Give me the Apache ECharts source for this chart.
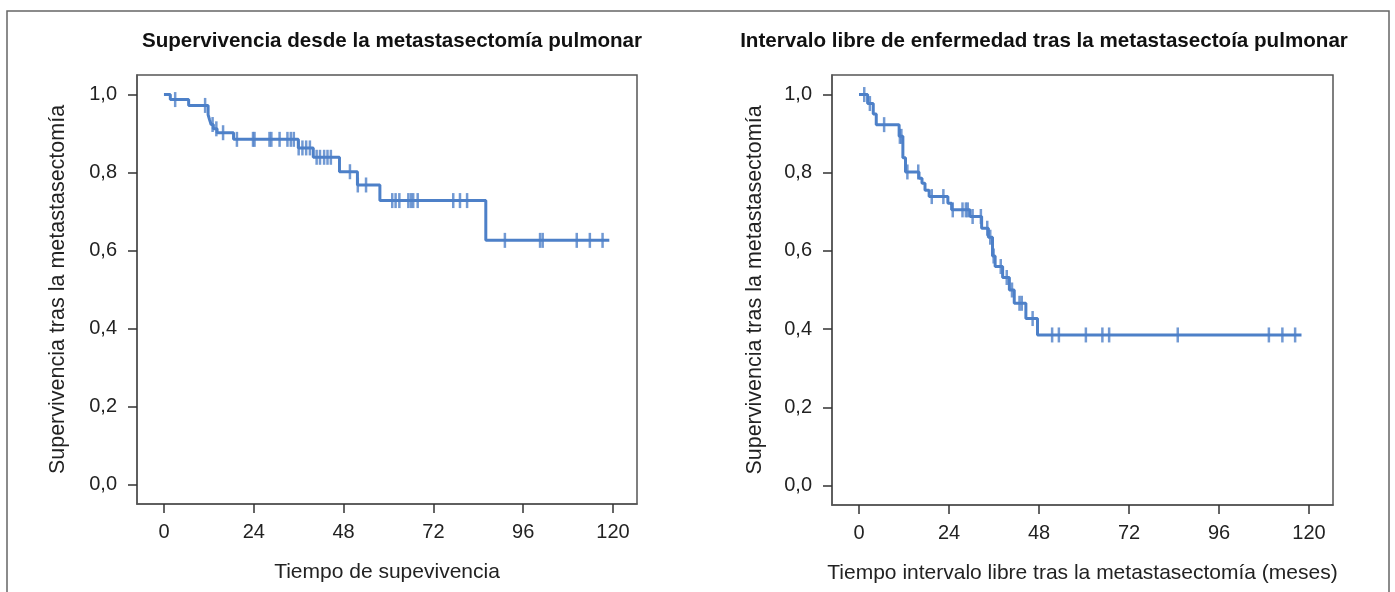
<!DOCTYPE html>
<html>
<head>
<meta charset="utf-8">
<script src="https://cdn.jsdelivr.net/npm/echarts@6/dist/echarts.min.js"></script>
<style>html,body{margin:0;padding:0;background:#fff;}#c{width:1395px;height:592px;}</style>
</head>
<body>
<div id="c"></div>
<script>
// ---- Data ----
const xTicks = [0, 24, 48, 72, 96, 120];
const yTicks = [0, 0.2, 0.4, 0.6, 0.8, 1.0];

// Left: Supervivencia desde la metastasectomía pulmonar
const leftStepTimes = [1.7, 6.6, 11.8, 12.2, 12.6, 13.2, 14.2, 18.6, 35.9, 39.9, 46.9, 51.7, 57.7, 86.0];
const leftStepSurv  = [0.987, 0.972, 0.948, 0.935, 0.923, 0.912, 0.902, 0.885, 0.863, 0.839, 0.802, 0.768, 0.728, 0.626];
const leftEnd = 119;
const leftCensor = [3.0, 11.0, 13.0, 14.0, 15.8, 19.5, 23.8, 24.2, 28.2, 28.7, 30.9, 33.0, 33.9, 34.7,
  36.0, 37.0, 38.0, 39.0, 40.8, 41.7, 42.8, 43.7, 44.6, 49.7, 51.8, 54.0,
  61.0, 61.9, 62.9, 65.3, 66.0, 66.6, 67.8, 77.3, 79.1, 81.0, 91.1, 100.5, 101.2, 110.3, 113.8, 117.2];

// Right: Intervalo libre de enfermedad
const rightStepTimes = [2.3, 3.8, 4.6, 10.7, 11.7, 12.4, 16.0, 16.8, 17.6, 18.7, 23.7, 24.7, 29.6, 32.7, 34.5, 35.6, 36.3, 38.3, 40.1, 41.4, 44.5, 47.6];
const rightStepSurv  = [0.977, 0.95, 0.923, 0.893, 0.838, 0.802, 0.786, 0.773, 0.755, 0.739, 0.722, 0.705, 0.688, 0.658, 0.635, 0.587, 0.560, 0.532, 0.500, 0.466, 0.427, 0.385];
const rightEnd = 118;
const rightCensor = [1.4, 2.9, 6.7, 10.9, 11.3, 12.9, 15.8, 19.4, 22.5, 25.0, 27.6, 28.5, 29.0, 30.3, 32.5,
  34.2, 35.0, 35.9, 37.8, 39.4, 40.8, 42.8, 43.4, 46.3, 51.5, 53.3, 60.5, 64.9, 66.7, 85.0, 109.3, 112.9, 116.3];

const titles = ['Supervivencia desde la metastasectomía pulmonar', 'Intervalo libre de enfermedad tras la metastasectoía pulmonar'];
const xNames = ['Tiempo de supevivencia', 'Tiempo intervalo libre tras la metastasectomía (meses)'];
const yName = 'Supervivencia tras la metastasectomía';

// ---- Build ----
const BLUE = '#4d80c8';
const FONT = '"Liberation Sans", Arial, Helvetica, sans-serif';
function curve(T, S, end) {
  const d = [[0, 1]];
  T.forEach((t, i) => d.push([t, S[i]]));
  d.push([end, S[S.length - 1]]);
  return d;
}
function level(t, T, S) {
  let s = 1;
  for (let i = 0; i < T.length; i++) if (T[i] <= t) s = S[i];
  return s;
}
function censorPts(C, T, S) { return C.map(t => [t, level(t, T, S)]); }

const fmt = v => v.toFixed(1).replace('.', ',');
function xAxis(idx, name) {
  return {
    type: 'value', gridIndex: idx, min: -7.2, max: 126.4,
    name: name, nameLocation: 'middle', nameGap: 58,
    nameTextStyle: { fontFamily: FONT, fontSize: 21, color: '#222' },
    axisLine: { show: true, onZero: false, lineStyle: { color: '#555', width: 1.5 } },
    axisTick: { show: true, length: 9, customValues: xTicks, lineStyle: { color: '#333', width: 1.5 } },
    axisLabel: { customValues: xTicks, margin: 18, fontFamily: FONT, fontSize: 20, color: '#222' },
    splitLine: { show: false }
  };
}
function yAxis(idx, gap) {
  return {
    type: 'value', gridIndex: idx, min: -0.05, max: 1.05,
    name: yName, nameLocation: 'middle', nameGap: gap,
    nameTextStyle: { fontFamily: FONT, fontSize: 21.5, color: '#222' },
    axisLine: { show: true, onZero: false, lineStyle: { color: '#555', width: 1.5 } },
    axisTick: { show: true, length: 9, customValues: yTicks, lineStyle: { color: '#333', width: 1.5 } },
    axisLabel: { customValues: yTicks, margin: 20, formatter: fmt, fontFamily: FONT, fontSize: 20, color: '#222' },
    splitLine: { show: false }
  };
}
function lineSeries(idx, data) {
  return { type: 'line', xAxisIndex: idx, yAxisIndex: idx, step: 'end', data: data, symbol: 'none',
    lineStyle: { color: BLUE, width: 3 }, z: 3, animation: false };
}
function censorSeries(idx, data) {
  return { type: 'scatter', xAxisIndex: idx, yAxisIndex: idx, data: data, symbol: 'rect', symbolSize: [2.5, 15],
    itemStyle: { color: BLUE }, z: 4, animation: false };
}

const chart = echarts.init(document.getElementById('c'), null, { renderer: 'canvas' });
chart.setOption({
  animation: false,
  backgroundColor: '#fff',
  title: [
    { text: titles[0], left: 387, top: 26, textAlign: 'center', textStyle: { fontFamily: FONT, fontSize: 20.6, fontWeight: 'bold', color: '#111' } },
    { text: titles[1], left: 1039, top: 26, textAlign: 'center', textStyle: { fontFamily: FONT, fontSize: 20.6, fontWeight: 'bold', color: '#111' } }
  ],
  grid: [
    { left: 137, top: 75, width: 500, height: 429, show: true, borderColor: '#555', borderWidth: 1.5, backgroundColor: 'transparent' },
    { left: 832, top: 75, width: 501, height: 430, show: true, borderColor: '#555', borderWidth: 1.5, backgroundColor: 'transparent' }
  ],
  xAxis: [xAxis(0, xNames[0]), xAxis(1, xNames[1])],
  yAxis: [yAxis(0, 68), yAxis(1, 66)],
  series: [
    lineSeries(0, curve(leftStepTimes, leftStepSurv, leftEnd)),
    censorSeries(0, censorPts(leftCensor, leftStepTimes, leftStepSurv)),
    lineSeries(1, curve(rightStepTimes, rightStepSurv, rightEnd)),
    censorSeries(1, censorPts(rightCensor, rightStepTimes, rightStepSurv))
  ],
  graphic: [
    { type: 'rect', shape: { x: 7, y: 11, width: 1382, height: 640 }, style: { fill: 'none', stroke: '#666', lineWidth: 1.5 }, silent: true }
  ]
});
</script>
</body>
</html>
